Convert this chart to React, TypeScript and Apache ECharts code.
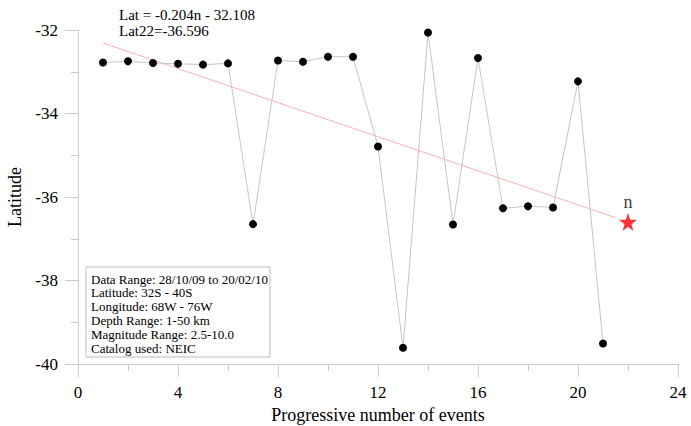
import React, { useEffect, useRef } from "react";
import * as echarts from "echarts";

const eventNumbers = [1, 2, 3, 4, 5, 6, 7, 8, 9, 10, 11, 12, 13, 14, 15, 16, 17, 18, 19, 20, 21];
const latitudes = [
  -32.78, -32.75, -32.79, -32.81, -32.83, -32.8, -36.65, -32.73, -32.76, -32.64, -32.64,
  -34.79, -39.61, -32.06, -36.66, -32.67, -36.27, -36.22, -36.25, -33.23, -39.51,
];
const slope = -0.204;
const intercept = -32.108;
const fitRange = [1, 21.5];
const predictedN = 22;
const predictedLat = -36.596;
const xTicks = { min: 0, max: 24, interval: 4 };
const yTicks = { min: -40, max: -32, interval: 2 };
const headerLines = ["Lat = -0.204n - 32.108", "Lat22=-36.596"];
const infoLines = [
  "Data Range: 28/10/09 to 20/02/10",
  "Latitude: 32S - 40S",
  "Longitude: 68W - 76W",
  "Depth Range: 1-50 km",
  "Magnitude Range: 2.5-10.0",
  "Catalog used: NEIC",
];

const FONT = "Liberation Serif";
const STAR =
  "path://M50,0 L61.8,35.1 L98.9,34.5 L69.1,56.7 L79.4,90.5 L50,70 L20.6,90.5 L30.9,56.7 L1.1,34.5 L38.2,35.1 Z";

export default function App() {
  const ref = useRef<HTMLDivElement>(null);
  useEffect(() => {
    if (!ref.current) return;
    const chart = echarts.init(ref.current, null, { renderer: "svg" });
    const points = eventNumbers.map((n, i) => [n, latitudes[i]]);
    const fit = fitRange.map((n) => [n, slope * n + intercept]);
    const axisColor = "#cccccc";
    chart.setOption({
      animation: false,
      backgroundColor: "#ffffff",
      grid: { left: 78, right: 13, top: 30, bottom: 62, containLabel: false, outerBoundsMode: "none" },
      xAxis: {
        type: "value",
        min: xTicks.min,
        max: xTicks.max,
        interval: xTicks.interval,
        name: "Progressive number of events",
        nameLocation: "middle",
        nameGap: 38,
        nameTextStyle: { fontFamily: FONT, fontSize: 18, color: "#000" },
        axisLine: { show: true, lineStyle: { color: axisColor, width: 1 } },
        axisTick: { show: true, length: 13, lineStyle: { color: axisColor } },
        minorTick: { show: true, splitNumber: 2, length: 7, lineStyle: { color: axisColor } },
        axisLabel: { fontFamily: FONT, fontSize: 17, color: "#000", margin: 20 },
        splitLine: { show: false },
      },
      yAxis: {
        type: "value",
        min: yTicks.min,
        max: yTicks.max,
        interval: yTicks.interval,
        name: "Latitude",
        nameLocation: "middle",
        nameGap: 45,
        nameRotate: 90,
        nameTextStyle: { fontFamily: FONT, fontSize: 18, color: "#000" },
        axisLine: { show: true, lineStyle: { color: axisColor, width: 1 } },
        axisTick: { show: true, length: 13, lineStyle: { color: axisColor } },
        minorTick: { show: true, splitNumber: 2, length: 7, lineStyle: { color: axisColor } },
        axisLabel: { fontFamily: FONT, fontSize: 17, color: "#000", margin: 20 },
        splitLine: { show: false },
      },
      series: [
        {
          type: "line",
          data: fit,
          symbol: "none",
          lineStyle: { color: "#f7b4b4", width: 1 },
          z: 1,
        },
        {
          type: "line",
          data: points,
          symbol: "circle",
          symbolSize: 8,
          itemStyle: { color: "#000" },
          lineStyle: { color: "#c4c4c4", width: 1 },
          z: 2,
        },
        {
          type: "scatter",
          data: [[predictedN, predictedLat]],
          symbol: STAR,
          symbolSize: 18,
          itemStyle: { color: "#ff0000" },
          label: {
            show: true,
            position: "top",
            distance: 2,
            formatter: "n",
            fontFamily: FONT,
            fontSize: 18,
            color: "#000",
          },
          z: 3,
        },
      ],
      graphic: [
        ...headerLines.map((t, i) => ({
          type: "text",
          x: 119,
          y: 15 + i * 16,
          style: { text: t, font: `15px "${FONT}"`, fill: "#000", textVerticalAlign: "middle" },
        })),
        {
          type: "rect",
          shape: { x: 86, y: 267, width: 184, height: 90 },
          style: { fill: "#fff", stroke: "#bbbbbb", lineWidth: 1 },
          z: 10,
        },
        ...infoLines.map((t, i) => ({
          type: "text",
          x: 91,
          y: 279 + i * 13.8,
          z: 11,
          style: { text: t, font: `13px "${FONT}"`, fill: "#000", textVerticalAlign: "middle" },
        })),
      ],
    });
    return () => chart.dispose();
  }, []);
  return (
    <div
      ref={ref}
      style={{ position: "absolute", left: 0, top: 0, width: 691, height: 426 }}
    />
  );
}
